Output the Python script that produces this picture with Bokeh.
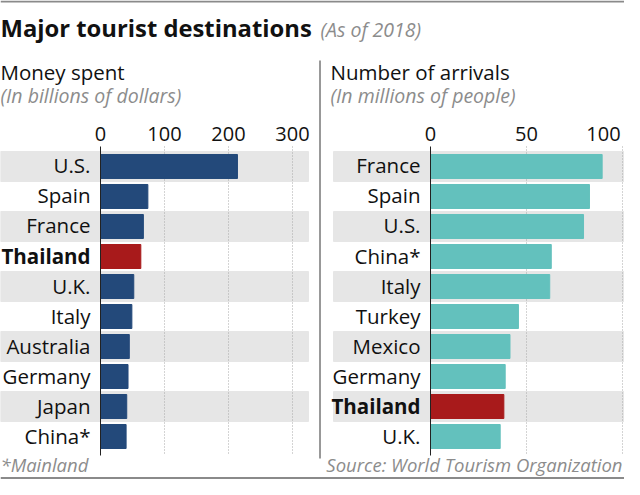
from bokeh.plotting import figure
from bokeh.models import Range1d, ColumnDataSource, Label
from bokeh.embed import file_html
from bokeh.resources import INLINE

# ---------------- data ----------------
spend_countries = ["U.S.", "Spain", "France", "Thailand", "U.K.", "Italy",
                   "Australia", "Germany", "Japan", "China*"]
spend_values = [214, 74, 67, 63, 52, 49, 45, 43, 41, 40]
spend_ticks = [0, 100, 200, 300]
spend_tick_labels = ["0", "100", "200", "300"]

arrival_countries = ["France", "Spain", "U.S.", "China*", "Italy", "Turkey",
                     "Mexico", "Germany", "Thailand", "U.K."]
arrival_values = [89.4, 82.8, 79.7, 62.9, 62.1, 45.8, 41.4, 38.9, 38.2, 36.3]
arrival_ticks = [0, 50, 100]
arrival_tick_labels = ["0", "50", "100"]

highlight = "Thailand"

# ---------------- style ----------------
FONT = "Open Sans"
NAVY = "#23497a"
RED = "#a81a1b"
TEAL = "#63c1bd"
BAND = "#e6e6e6"
GREY_TXT = "#8c8c8c"
DARK = "#111111"

W, H = 624, 479

p = figure(width=W, height=H, output_backend="svg", toolbar_location=None,
           title=None,
           x_range=Range1d(-156.25, 818.75), y_range=Range1d(10.4333, -5.5333),
           x_axis_location=None, y_axis_location=None,
           min_border=0, min_border_left=0, min_border_right=0,
           min_border_top=0, min_border_bottom=0,
           outline_line_color=None, background_fill_color="white",
           border_fill_color="white")
p.grid.visible = False
p.extra_x_ranges = {"right": Range1d(-223.96, 101.04), "px": Range1d(0, W)}
p.extra_y_ranges = {"py": Range1d(H, 0)}

n = len(spend_countries)
rows = list(range(n))
band_rows = [r for r in rows if r % 2 == 0]

# background bands
p.hbar(y=band_rows, left=-10, right=308, height=1.0, color=BAND,
       x_range_name="px")
p.hbar(y=band_rows, left=333, right=640, height=1.0, color=BAND,
       x_range_name="px")

# dotted grid lines
p.segment(x0=spend_ticks[1:], x1=spend_ticks[1:], y0=146, y1=453,
          y_range_name="py", line_color="#a8a8a8", line_width=1, line_dash="1 2")
p.segment(x0=arrival_ticks[1:], x1=arrival_ticks[1:], y0=146, y1=453,
          y_range_name="py", x_range_name="right",
          line_color="#a8a8a8", line_width=1, line_dash="1 2")

# bars
left_src = ColumnDataSource(dict(
    y=rows, v=spend_values, c=spend_countries,
    color=[RED if c == highlight else NAVY for c in spend_countries]))
right_src = ColumnDataSource(dict(
    y=rows, v=arrival_values, c=arrival_countries,
    color=[RED if c == highlight else TEAL for c in arrival_countries]))

p.hbar(y="y", left=0, right="v", height=0.8, color="color", source=left_src)
p.hbar(y="y", left=0, right="v", height=0.8, color="color", source=right_src,
       x_range_name="right")

# zero axis lines
p.segment(x0=[0], x1=[0], y0=146, y1=455, y_range_name="py",
          line_color="#222222", line_width=1)
p.segment(x0=[0], x1=[0], y0=146, y1=455, y_range_name="py",
          x_range_name="right", line_color="#222222", line_width=1)

# country labels
def labels(countries, rng):
    norm = [(i, c) for i, c in enumerate(countries) if c != highlight]
    bold = [(i, c) for i, c in enumerate(countries) if c == highlight]
    kw = dict(text_font={"value": FONT}, text_font_size="20.5px",
              text_align="right", text_baseline="middle", text_color=DARK,
              x_offset=-10, y_offset=-1)
    if rng:
        kw["x_range_name"] = rng
    p.text(x=[0] * len(norm), y=[i for i, _ in norm], text=[c for _, c in norm], **kw)
    p.text(x=[0] * len(bold), y=[i for i, _ in bold], text=[c for _, c in bold],
           text_font_style="bold", **kw)

labels(spend_countries, None)
labels(arrival_countries, "right")

# tick labels
TICK_Y = 133
p.text(x=spend_ticks, y=[TICK_Y] * len(spend_ticks), text=spend_tick_labels,
       y_range_name="py", text_font={"value": FONT}, text_font_size="20px",
       text_align="center", text_baseline="middle", text_color=DARK)
tick_src = ColumnDataSource(dict(x=arrival_ticks, y=[TICK_Y] * len(arrival_ticks),
                                 t=arrival_tick_labels,
                                 dx=[0, 0, -19]))
p.text(x="x", y="y", text="t", x_offset="dx", source=tick_src,
       x_range_name="right", y_range_name="py",
       text_font={"value": FONT}, text_font_size="20px",
       text_align="center", text_baseline="middle", text_color=DARK)

# divider and rules
p.segment(x0=[319.5], x1=[319.5], y0=60, y1=458, x_range_name="px",
          y_range_name="py", line_color="#333333", line_width=1)
p.segment(x0=[0, 0], x1=[W, W], y0=[1, 477.5], y1=[1, 477.5], x_range_name="px",
          y_range_name="py", line_color="#8a8a8a", line_width=2)

def lab(x, y, text, size, color=DARK, style="normal", align="left"):
    p.add_layout(Label(x=x, y=y, x_range_name="px", y_range_name="py", text=text,
                       text_font=FONT, text_font_size=size, text_color=color,
                       text_font_style=style, text_align=align,
                       text_baseline="middle"))

lab(0, 27, "Major tourist destinations", "23.8px", style="bold")
lab(320, 28.5, "(As of 2018)", "19.5px", color=GREY_TXT, style="italic")
lab(0, 71, "Money spent", "20.5px")
lab(0, 94.5, "(In billions of dollars)", "19.5px", color=GREY_TXT, style="italic")
lab(330, 71, "Number of arrivals", "20.5px")
lab(330, 94.5, "(In millions of people)", "19.5px", color=GREY_TXT, style="italic")
lab(0, 464, "*Mainland", "18.5px", color=GREY_TXT, style="italic")
lab(622, 464, "Source: World Tourism Organization", "18.5px", color=GREY_TXT,
    style="italic", align="right")

open("out.html", "w").write(file_html(p, INLINE))
